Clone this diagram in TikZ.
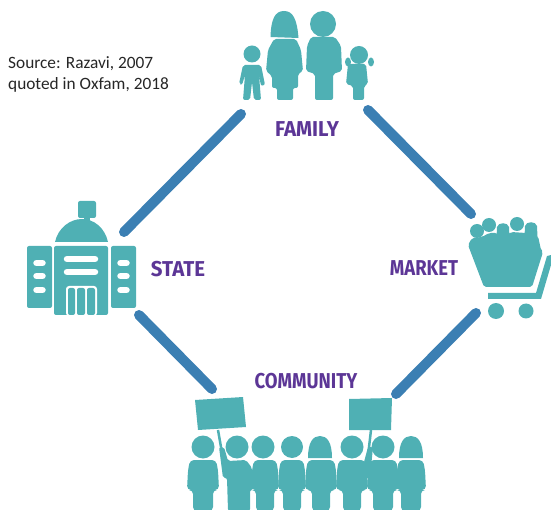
\documentclass[tikz,border=0pt]{standalone}
\usepackage{fontspec}
\setmainfont{Carlito}
\newfontfamily\labelfont[FakeStretch=0.95]{Fira Sans Bold}
\newfontfamily\narrowfont[FakeStretch=0.86]{Fira Sans Bold}
\usepackage{xcolor}
\definecolor{Icon-teal}{RGB}{79, 176, 180}
\definecolor{Link-blue}{RGB}{59, 127, 179}
\definecolor{Label-purple}{RGB}{92, 54, 150}
\usetikzlibrary{positioning}

\begin{document}
\begin{tikzpicture} [
    x=1pt, y=-1pt,
    link/.style = {draw=Link-blue,line width=10pt,line cap=round},
    sector/.style = {text=Label-purple,font=\labelfont\fontsize{21.5}{21.5}\selectfont,inner sep=0},
    narrow/.style = {sector,font=\narrowfont\fontsize{21.5}{21.5}\selectfont},
    icon/.style = {fill=Icon-teal,draw=none},
    soft/.style = {fill=Icon-teal,draw=none,rounded corners=2pt},
    gap/.style = {fill=white,draw=none},
    source/.style = {align=left,anchor=north west,inner sep=0,font=\fontsize{17.3}{21}\selectfont,text=black!85}
    ]

    \useasboundingbox (0,0) rectangle (551,510);

    \node (src) [source] at (8,56) {Source: Razavi, 2007\\quoted in Oxfam, 2018};

    \node (family) [sector] at (307,129) {FAMILY};
    \node (state) [sector] at (178,269) {STATE};
    \node (market) [narrow] at (424,268) {MARKET};
    \node (community) [narrow] at (306,381) {COMMUNITY};

    % ends of the four links
    \coordinate (fl) at (241,114);
    \coordinate (sf) at (124,232);
    \coordinate (fr) at (368,110);
    \coordinate (mf) at (471,214);
    \coordinate (sc) at (139,315);
    \coordinate (cl) at (212,389);
    \coordinate (mc) at (476,313);
    \coordinate (cr) at (396,394);

    \draw[link] (fl) -- (sf);
    \draw[link] (fr) -- (mf);
    \draw[link] (sc) -- (cl);
    \draw[link] (mc) -- (cr);

    % family
    \foreach \hx/\hy/\hr in {252/54/8.5, 323/24/13, 359/55/9}
        \fill[icon] (\hx,\hy) circle (\hr);
    \fill[icon] (270.5,37) .. controls (271,19) and (275,11) .. (284,11) .. controls (293,11) and (297,19) .. (298.5,38) -- cycle;
    \fill[soft] (243,65) -- (261,65) -- (265,85) -- (261,86) -- (259,75) -- (261,100) -- (254,100) -- (252,82) -- (250,100) -- (243,100) -- (245,75) -- (242,85) -- (239,84) -- cycle;
    \fill[soft] (274,39) -- (296,39) -- (301,50) -- (303,71) -- (298,74) -- (298,88) -- (293,88) -- (293,100) -- (277,100) -- (277,88) -- (272,88) -- (272,76) -- (266,71) -- (268,50) -- cycle;
    \fill[soft] (311,37) -- (335,37) -- (341,46) -- (342,71) -- (333,74) -- (333,100) -- (315,100) -- (315,74) -- (306,71) -- (307,46) -- cycle;
    \fill[soft] (348,64) -- (366,64) -- (368,84) -- (364,86) -- (364,100) -- (353,100) -- (353,86) -- (346,84) -- cycle;
    \fill[icon] (348,62) ellipse (3 and 4.5);
    \fill[icon] (371,62) ellipse (3 and 4.5);

    % state
    \fill[soft] (78,201) rectangle (96,218);
    \fill[icon] (84,210) rectangle (90,222);
    \fill[icon] (55,242) .. controls (58,228) and (70,219) .. (82,219) .. controls (94,219) and (105,228) .. (108,242) -- cycle;
    \fill[soft] (27,246) rectangle (52,308);
    \fill[soft] (54,246) rectangle (108,315);
    \fill[soft] (111,246) rectangle (136,308);
    \foreach \wx in {39.5,123.5}
        \foreach \wy in {263,276,290}
            \draw[white,line width=6.5pt,line cap=round] (\wx-3,\wy) -- (\wx+3,\wy);
    \foreach \wy in {259,272}
        \draw[white,line width=6.5pt,line cap=round] (67,\wy) -- (95,\wy);
    \fill[gap,rounded corners=3pt] (66,316) -- (66,286) -- (97,286) -- (97,316) -- cycle;
    \foreach \px/\pw in {71.5/3.5, 81/4, 91/4}
        \fill[icon,rounded corners=2pt] (\px-\pw,288) rectangle (\px+\pw,315);

    % market
    \foreach \hx/\hy in {477/231, 489/225, 517/224}
        \fill[icon] (\hx,\hy) circle (7);
    \foreach \hx/\hy in {503/229, 531/228}
        \fill[icon] (\hx-6.5,\hy+9) -- (\hx-6,\hy-2) .. controls (\hx-5,\hy-7) and (\hx+5,\hy-7) .. (\hx+6,\hy-2) -- (\hx+6.5,\hy+9) -- cycle;
    \fill[soft] (468,245) -- (472,238) -- (482,237) -- (489,233) -- (497,233) -- (503,238) -- (511,232) -- (526,233) -- (538,236) -- (541,250) -- (543,252) -- (532,287) -- (484,287) -- cycle;
    \fill[icon] (488,293) -- (536,293) -- (547,256) -- (551,255) -- (551,265) -- (541,299) -- (488,299) -- cycle;
    \fill[icon] (496,311) circle (8);
    \fill[icon] (526,311) circle (7.5);

    % community
    \fill[icon] (195,400) -- (243,397) -- (246,427) -- (198,430) -- cycle;
    \fill[icon] (349,399) -- (392,398) -- (391,430) -- (349,430) -- cycle;
    \draw[Icon-teal,line width=2.5pt] (218,430) -- (221,447);
    \draw[Icon-teal,line width=2.5pt] (371,430) -- (368,456);
    \foreach \hx/\hr in {203/11.5, 237/11.5, 263/11.5, 292/11, 352/11.5, 383/11.5}
        \fill[icon] (\hx,447) circle (\hr);
    \foreach \hx in {320,411}
        \fill[icon] (\hx-12,458) .. controls (\hx-12,442) and (\hx-7,436) .. (\hx,436) .. controls (\hx+7,436) and (\hx+12,442) .. (\hx+12,458) -- cycle;
    % bodies, from left to right
    \foreach \bx/\bw/\lw in {203/15/10, 265/13/9, 292/13/9, 321/15/9, 352/15/9, 383/15/10, 411/14/10} {
        \fill[soft,rounded corners=4pt] (\bx-\bw+2,460) -- (\bx+\bw-2,460) -- (\bx+\bw,470) -- (\bx+\bw+1,490) -- (\bx+\lw,490) -- (\bx+\lw,511) -- (\bx-\lw,511) -- (\bx-\lw,490) -- (\bx-\bw-1,490) -- (\bx-\bw,470) -- cycle;
    }
    \fill[soft] (219,447) -- (224,447) -- (228,461) -- (246,460) -- (252,468) -- (253,490) -- (250,490) -- (250,511) -- (228,511) -- (227,478) -- (223,478) -- cycle;
    \fill[soft] (368,447) -- (373,447) -- (370,478) -- (362,478) -- (364,462) -- cycle;

\end{tikzpicture}
\end{document}
